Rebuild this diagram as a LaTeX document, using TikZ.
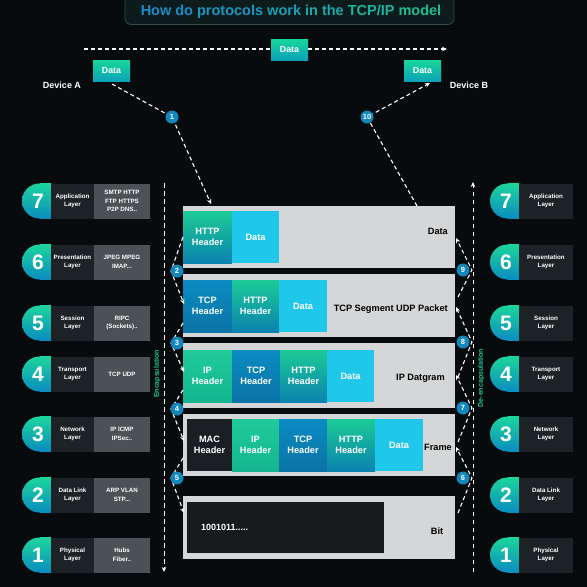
\documentclass[tikz,border=0pt]{standalone}
\usepackage{fontspec}
\setmainfont{Liberation Sans}
\usetikzlibrary{arrows.meta}
\definecolor{bg}{HTML}{070B0E}
\definecolor{tfill}{HTML}{0E1B1D}
\definecolor{tborder}{HTML}{34464A}
\definecolor{ngreen}{HTML}{1CD59C}
\definecolor{nblue}{HTML}{0A8CC0}
\definecolor{labdark}{HTML}{1D2226}
\definecolor{protgray}{HTML}{4B5155}
\definecolor{boxgray}{HTML}{D5D6D7}
\definecolor{hgreen}{HTML}{1DCB96}
\definecolor{hblue}{HTML}{0A82AE}
\definecolor{datacyan}{HTML}{1FC7EA}
\definecolor{tcpblue}{HTML}{0A8BC2}
\definecolor{tcpblue2}{HTML}{0B74A6}
\definecolor{ipgreen}{HTML}{1FCB98}
\definecolor{ipgreen2}{HTML}{14B590}
\definecolor{macdark}{HTML}{1B1F23}
\definecolor{bitdark}{HTML}{171B1E}
\definecolor{circ}{HTML}{1487BA}
\definecolor{encgreen}{HTML}{1EC68F}
\definecolor{dgreen}{HTML}{17D69A}
\definecolor{dteal}{HTML}{0AA2B8}
\definecolor{tc1}{HTML}{1A8CC6}
\definecolor{tc2}{HTML}{1A96BF}
\definecolor{tc3}{HTML}{1AA0B5}
\definecolor{tc4}{HTML}{1BA9AA}
\definecolor{tc5}{HTML}{1CB39D}
\definecolor{tc6}{HTML}{1DBD90}
\begin{document}
\begin{tikzpicture}[x=1pt,y=-1pt,
  dl/.style={draw=white, line width=1.1pt, dash pattern=on 4pt off 3pt},
  dl2/.style={draw=white, line width=1pt, dash pattern=on 4.5pt off 3.5pt},
  arr/.style={-{Stealth[length=5pt,width=4.5pt]}},
  numc/.style={circle, fill=circ, text=white, font=\bfseries\fontsize{7.5}{8}\selectfont, inner sep=0pt, minimum size=13pt},
  digit/.style={text=white, font=\bfseries\fontsize{21}{21}\selectfont, inner sep=0pt},
  cell/.style={inner sep=0pt, minimum height=35pt},
  lab/.style={text=white, font=\bfseries\fontsize{6.2}{8.6}\selectfont, align=center, inner sep=0pt},
  blk/.style={text=white, font=\bfseries\fontsize{9.2}{11.5}\selectfont, align=center, inner sep=0pt, minimum height=52pt},
  gbox/.style={fill=boxgray, inner sep=0pt, minimum width=272pt},
  blab/.style={text=black, font=\bfseries\fontsize{9.2}{11}\selectfont, inner sep=0pt},
  dbox/.style={top color=dgreen, bottom color=dteal, text=white, font=\bfseries\fontsize{8.8}{9}\selectfont, inner sep=0pt, minimum width=37pt, minimum height=21pt},
  dev/.style={text=white, font=\bfseries\fontsize{9}{9}\selectfont, inner sep=0pt},
  enc/.style={text=encgreen, font=\bfseries\fontsize{7}{7}\selectfont, inner sep=0pt, rotate=90}
]
\fill[bg] (0,0) rectangle (587,587);
\useasboundingbox (0,0) rectangle (587,587);

% title
\node[draw=tborder, line width=0.8pt, fill=tfill, rounded corners=6pt, minimum width=329pt, minimum height=29pt, inner sep=0pt] (tbox) at (289.5,10) {};
\node[font=\bfseries\fontsize{14.5}{15}\selectfont, inner sep=0pt] (title) at (291,12) {\textcolor{tc1}{How do} \textcolor{tc2}{protocols} \textcolor{tc3}{work} \textcolor{tc4}{in the} \textcolor{tc5}{TCP/IP} \textcolor{tc6}{model}};

% top data flow
\coordinate (tl) at (84,49);
\coordinate (tr) at (447,49);
\draw[dl, arr] (tl) -- (tr);
\node[dbox] (dtop) at (289.5,49.5) {Data};
\node[dbox] (dA) at (111.5,71) {Data};
\node[dbox] (dB) at (422.5,71) {Data};
\node[dev] (devA) at (62,85) {Device A};
\node[dev] (devB) at (469,85) {Device B};

% encapsulation lines
\coordinate (el1) at (164,183);
\coordinate (el2) at (164,572);
\coordinate (er1) at (473,572);
\coordinate (er2) at (473,182);
\draw[dl2, arr] (el1) -- (el2);
\draw[dl2, arr] (er1) -- (er2);
\node[enc] (encL) at (157,374) {Encapsulation};
\node[enc] (encR) at (481,378) {De-encapsulation};

% layer rows
\foreach \n/\yc/\la/\pr in {7/201/{Application\\Layer}/{SMTP HTTP\\FTP HTTPS\\P2P DNS..},
  6/262/{Presentation\\Layer}/{JPEG MPEG\\IMAP...},
  5/323/{Session\\Layer}/{RIPC\\(Sockets)..},
  4/374/{Transport\\Layer}/{TCP UDP},
  3/434/{Network\\Layer}/{IP ICMP\\IPSec..},
  2/495/{Data Link\\Layer}/{ARP VLAN\\STP...},
  1/555/{Physical\\Layer}/{Hubs\\Fiber..}}{
  \shade[top color=ngreen, bottom color=nblue] (39.5,\yc) circle (17.5);
  \shade[top color=ngreen, bottom color=nblue] (39.5,\yc-17.5) rectangle (51,\yc+17.5);
  \node[digit] (Ln\n) at (38,\yc) {\n};
  \node[cell, fill=labdark, minimum width=43pt] (Lb\n) at (72.5,\yc) {};
  \node[cell, fill=protgray, minimum width=56pt] (Pb\n) at (122,\yc) {};
  \node[lab] (La\n) at (72.5,\yc) {\la};
  \node[lab] (Lp\n) at (122,\yc) {\pr};
  \shade[top color=ngreen, bottom color=nblue] (507.5,\yc) circle (17.5);
  \shade[top color=ngreen, bottom color=nblue] (507.5,\yc-17.5) rectangle (519,\yc+17.5);
  \node[digit] (Rn\n) at (506,\yc) {\n};
  \node[cell, fill=labdark, minimum width=54pt] (Rb\n) at (546,\yc) {};
  \node[lab] (Ra\n) at (546,\yc) {\la};
}

% box 1
\node[gbox, minimum height=62pt] (g1) at (319,237) {};
\node[blk, top color=hgreen, bottom color=hblue, minimum width=49pt] (b1h) at (207.5,237) {HTTP\\Header};
\node[blk, fill=datacyan, minimum width=47pt] (b1d) at (255.5,237) {Data};
\node[blab, anchor=east] (b1l) at (448,231) {Data};
% box 2
\node[gbox, minimum height=63pt] (g2) at (319,305.5) {};
\node[blk, top color=tcpblue, bottom color=tcpblue2, minimum width=49pt] (b2t) at (207.5,306) {TCP\\Header};
\node[blk, top color=hgreen, bottom color=hblue, minimum width=47pt] (b2h) at (255.5,306) {HTTP\\Header};
\node[blk, fill=datacyan, minimum width=48pt] (b2d) at (303,306) {Data};
\node[blab, anchor=east] (b2l) at (448,309) {TCP Segment UDP Packet};
% box 3
\node[gbox, minimum height=65pt] (g3) at (319,375.5) {};
\node[blk, top color=ipgreen, bottom color=ipgreen2, minimum width=49pt] (b3i) at (207.5,376) {IP\\Header};
\node[blk, top color=tcpblue, bottom color=tcpblue2, minimum width=48pt] (b3t) at (256,376) {TCP\\Header};
\node[blk, top color=hgreen, bottom color=hblue, minimum width=47pt] (b3h) at (303.5,376) {HTTP\\Header};
\node[blk, fill=datacyan, minimum width=47pt] (b3d) at (350.5,376) {Data};
\node[blab, anchor=east] (b3l) at (445,378) {IP Datgram};
% box 4
\node[gbox, minimum height=62pt] (g4) at (319,445) {};
\node[blk, fill=macdark, minimum width=45pt] (b4m) at (209.5,445) {MAC\\Header};
\node[blk, top color=ipgreen, bottom color=ipgreen2, minimum width=47pt] (b4i) at (255.5,445) {IP\\Header};
\node[blk, top color=tcpblue, bottom color=tcpblue2, minimum width=48pt] (b4t) at (303,445) {TCP\\Header};
\node[blk, top color=hgreen, bottom color=hblue, minimum width=48pt] (b4h) at (351,445) {HTTP\\Header};
\node[blk, fill=datacyan, minimum width=48pt] (b4d) at (399,445) {Data};
\node[blab, anchor=east] (b4l) at (452,447) {Frame};
% box 5
\node[gbox, minimum height=63pt] (g5) at (319,527.5) {};
\node[fill=bitdark, minimum width=197pt, minimum height=51pt, inner sep=0pt] (b5b) at (285.5,527.5) {};
\node[text=white, font=\bfseries\fontsize{9}{9}\selectfont, anchor=west, inner sep=0pt] (b5t) at (201,527) {1001011.....};
\node[blab] (b5l) at (437,531) {Bit};

% step 1 and 10
\coordinate (pA) at (112,84);
\coordinate (v1) at (172,117);
\coordinate (e1) at (211,204);
\draw[dl, arr] (pA) -- (v1) -- (e1);
\node[numc] (c1) at (172,117) {1};
\coordinate (s10) at (417,206);
\coordinate (v10) at (367,117);
\coordinate (pB) at (430,83);
\draw[dl, arr] (s10) -- (v10) -- (pB);
\node[numc] (c10) at (367,117) {10};

% left steps
\foreach \k/\ya/\yc/\yb in {2/237/271/304, 3/323/343/372, 4/390/409/441, 5/458/478/513}{
  \coordinate (ls\k) at (183,\ya);
  \coordinate (lv\k) at (171,\yc);
  \coordinate (le\k) at (184,\yb);
  \draw[dl, arr] (ls\k) -- (lv\k) -- (le\k);
  \node[numc] (c\k) at (177,\yc) {\k};
}
% right steps
\foreach \k/\ya/\yc/\yb in {6/513/478/447, 7/442/408/375, 8/377/342/307, 9/297/270/238}{
  \coordinate (rs\k) at (458,\ya);
  \coordinate (rv\k) at (472,\yc);
  \coordinate (re\k) at (456,\yb);
  \draw[dl, arr] (rs\k) -- (rv\k) -- (re\k);
  \node[numc] (c\k) at (463,\yc) {\k};
}
\end{tikzpicture}
\end{document}
